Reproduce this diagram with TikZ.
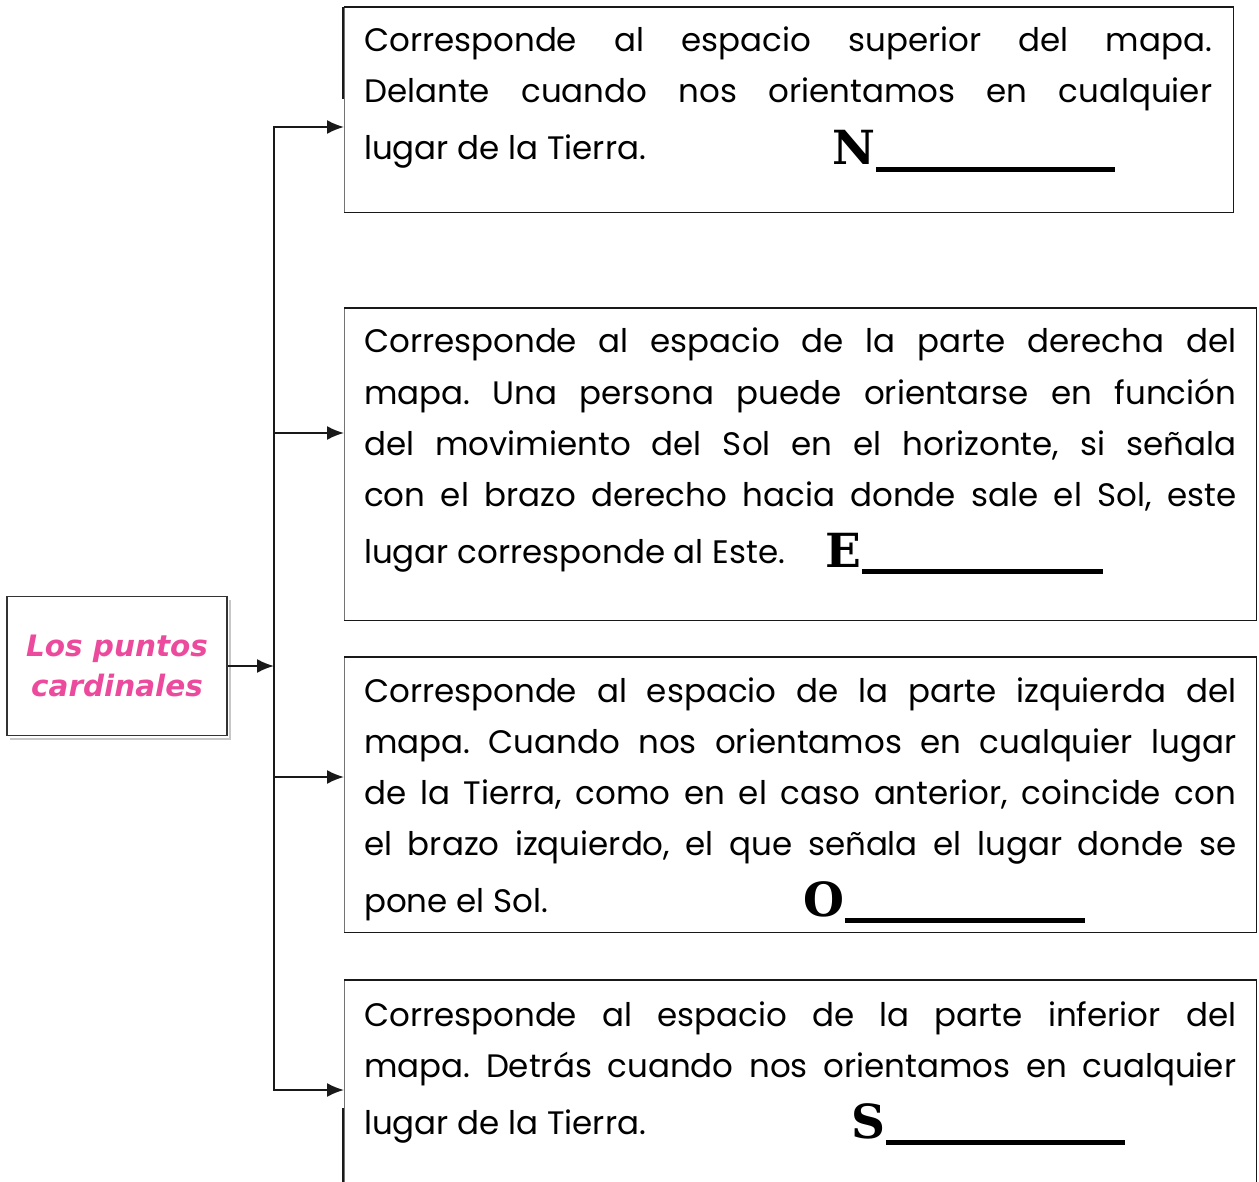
\documentclass[tikz,border=0pt]{standalone}
\usepackage{fontspec}
\usepackage{graphicx}
\usetikzlibrary{arrows.meta}
\newfontfamily\bodyfont{Poppins}
\newfontfamily\titlefont{DejaVu Sans}
\newfontfamily\capfont{DejaVu Serif}
\definecolor{titlepink}{HTML}{EC4A9C}
\newlength\jlw
\newcommand\jline[2]{\settowidth\jlw{#2}\ifdim\jlw>#1\relax\resizebox{#1}{\height}{#2}\else\makebox[#1][s]{#2}\fi}
\frenchspacing
\tikzset{
  body/.style={anchor=base west, inner sep=0pt, font=\bodyfont\fontsize{32.5}{36}\selectfont},
  capl/.style={anchor=base east, inner sep=0pt, font=\capfont\bfseries\fontsize{47}{50}\selectfont},
  boxnode/.style={anchor=north west, inner sep=0pt, draw=none},
  edge/.style={line width=1.6pt, draw=black!90},
  leftedge/.style={line width=0.8pt, draw=black!55},
  bus/.style={line width=1.9pt, draw=black!90, line cap=rect},
  arr/.style={line width=1.9pt, draw=black!90, -{Latex[length=17pt,width=14pt]}},
  titletext/.style={align=center, inner sep=0pt, font=\titlefont\bfseries\itshape\fontsize{29.5}{40}\selectfont}
}
\begin{document}
\begin{tikzpicture}[x=1pt,y=-1pt]
\useasboundingbox (0,0) rectangle (1259,1182);

% ---- right boxes
\node[boxnode, minimum width=889pt, minimum height=205pt] (b1) at (344,7) {};
\node[boxnode, minimum width=912pt, minimum height=312pt] (b2) at (344,308) {};
\node[boxnode, minimum width=912pt, minimum height=275pt] (b3) at (344,657) {};
\node[boxnode, minimum width=912pt, minimum height=230pt] (b4) at (344,980) {};
\foreach \b in {b1,b2,b3,b4}{
  \draw[leftedge] (\b.north west) -- (\b.south west);
  \draw[edge] (\b.north west) -- (\b.north east) -- (\b.south east) -- (\b.south west);
}
\draw[edge] ([xshift=-1pt]b1.north west) -- (343,99);
\draw[edge] (343,1108) -- (343,1190);

% ---- title box
\draw[line width=2pt, draw=black!22] (10,739) -- (230,739) -- (230,600);
\node[draw=black!80, line width=1.8pt, minimum width=220pt, minimum height=139pt,
      titletext, text=titlepink] (title) at (117,666) {Los puntos\\cardinales};

% ---- connectors
\coordinate (j1) at (274,127);
\coordinate (j2) at (274,433);
\coordinate (j3) at (274,777);
\coordinate (j4) at (274,1090);
\draw[bus] (j1) -- (j4);
\draw[arr] (title.east) -- (title.east -| j1);
\draw[arr] (j1) -- (j1 -| b1.west);
\draw[arr] (j2) -- (j2 -| b2.west);
\draw[arr] (j3) -- (j3 -| b3.west);
\draw[arr] (j4) -- (j4 -| b4.west);

% ---- box 1 text
\node[body] (t11) at (364,52) {\jline{848pt}{Corresponde al espacio superior del mapa.}};
\node[body] (t12) at (364,103) {\jline{848pt}{Delante cuando nos orientamos en cualquier}};
\node[body] (t13) at (364,160) {lugar de la Tierra.};
\node[capl] (cn) at (1115,165) {N\rule[-7pt]{239pt}{5pt}};

% ---- box 2 text
\node[body] (t21) at (364,353) {\jline{872pt}{Corresponde al espacio de la parte derecha del}};
\node[body] (t22) at (364,404) {\jline{872pt}{mapa. Una persona puede orientarse en función}};
\node[body] (t23) at (364,455) {\jline{872pt}{del movimiento del Sol en el horizonte, si señala}};
\node[body] (t24) at (364,506) {\jline{872pt}{con el brazo derecho hacia donde sale el Sol, este}};
\node[body] (t25) at (364,563) {lugar corresponde al Este.};
\node[capl] (ce) at (1103,567) {E\rule[-7pt]{241pt}{5pt}};

% ---- box 3 text
\node[body] (t31) at (364,702) {\jline{872pt}{Corresponde al espacio de la parte izquierda del}};
\node[body] (t32) at (364,753) {\jline{872pt}{mapa. Cuando nos orientamos en cualquier lugar}};
\node[body] (t33) at (364,804) {\jline{872pt}{de la Tierra, como en el caso anterior, coincide con}};
\node[body] (t34) at (364,855) {\jline{872pt}{el brazo izquierdo, el que señala el lugar donde se}};
\node[body] (t35) at (364,912) {pone el Sol.};
\node[capl] (co) at (1085,916) {O\rule[-7pt]{240pt}{5pt}};

% ---- box 4 text
\node[body] (t41) at (364,1026) {\jline{872pt}{Corresponde al espacio de la parte inferior del}};
\node[body] (t42) at (364,1077) {\jline{872pt}{mapa. Detrás cuando nos orientamos en cualquier}};
\node[body] (t43) at (364,1134) {lugar de la Tierra.};
\node[capl] (cs) at (1125,1138) {S\rule[-7pt]{239pt}{5pt}};
\end{tikzpicture}
\end{document}
